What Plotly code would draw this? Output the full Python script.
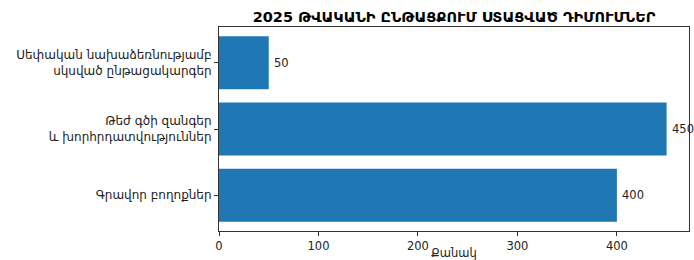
import plotly.graph_objects as go

categories = [
    "Սեփական նախաձեռնությամբ<br>սկսված ընթացակարգեր",
    "Թեժ գծի զանգեր<br>և խորհրդատվություններ",
    "Գրավոր բողոքներ",
]
values = [50, 450, 400]
value_labels = ["50", "450", "400"]
x_ticks = [0, 100, 200, 300, 400]
title_text = "2025 ԹՎԱԿԱՆԻ ԸՆԹԱՑՔՈՒՄ ՍՏԱՑՎԱԾ ԴԻՄՈՒՄՆԵՐ"
x_title = "Քանակ"

FONT = "DejaVu Sans"
L, R, T, B = 219, 5, 27, 29
W, H = 694, 260
fig = go.Figure()
fig.add_trace(go.Bar(
    x=values, y=categories, orientation="h",
    marker=dict(color="#1f77b4", line=dict(width=0)),
    width=0.8, cliponaxis=False, hoverinfo="skip",
))
for v, c, t in zip(values, categories, value_labels):
    fig.add_annotation(x=v, y=c, text=t, showarrow=False, xanchor="left",
                       xshift=3, font=dict(family=FONT, size=11.5, color="#222"))

fig.add_annotation(text=x_title, xref="paper", yref="paper", x=0.5,
                   y=-(253 - (H - B)) / (H - T - B), xanchor="center", yanchor="middle",
                   showarrow=False, font=dict(family=FONT, size=11.5, color="#222"))

fig.update_layout(
    width=W, height=H,
    margin=dict(l=L, r=R, t=T, b=B),
    paper_bgcolor="white", plot_bgcolor="white",
    showlegend=False,
    font=dict(family=FONT, size=11.5, color="#222"),
    title=dict(text="<b>" + title_text + "</b>", x=(L + W - R) / 2 / W, xanchor="center",
               y=1 - 17 / H, yanchor="middle",
               font=dict(family=FONT, size=14.5, color="black")),
)
fig.update_xaxes(
    range=[0, 472.5], tickvals=x_ticks, ticks="outside", ticklen=4, tickcolor="#333",
    showline=True, linecolor="#333", linewidth=1, mirror=True, showgrid=False, zeroline=False,
    automargin=False, tickfont=dict(size=11.5),
)
fig.update_yaxes(
    range=[2.54, -0.54], ticks="outside", ticklen=4, tickcolor="#333",
    showline=True, linecolor="#333", linewidth=1, mirror=True, showgrid=False,
    categoryorder="array", categoryarray=categories, automargin=False,
    tickfont=dict(size=12),
)
fig.write_html("out.html", config={"displayModeBar": False},
               post_script="document.body.style.margin='0';document.body.style.overflow='hidden';")
